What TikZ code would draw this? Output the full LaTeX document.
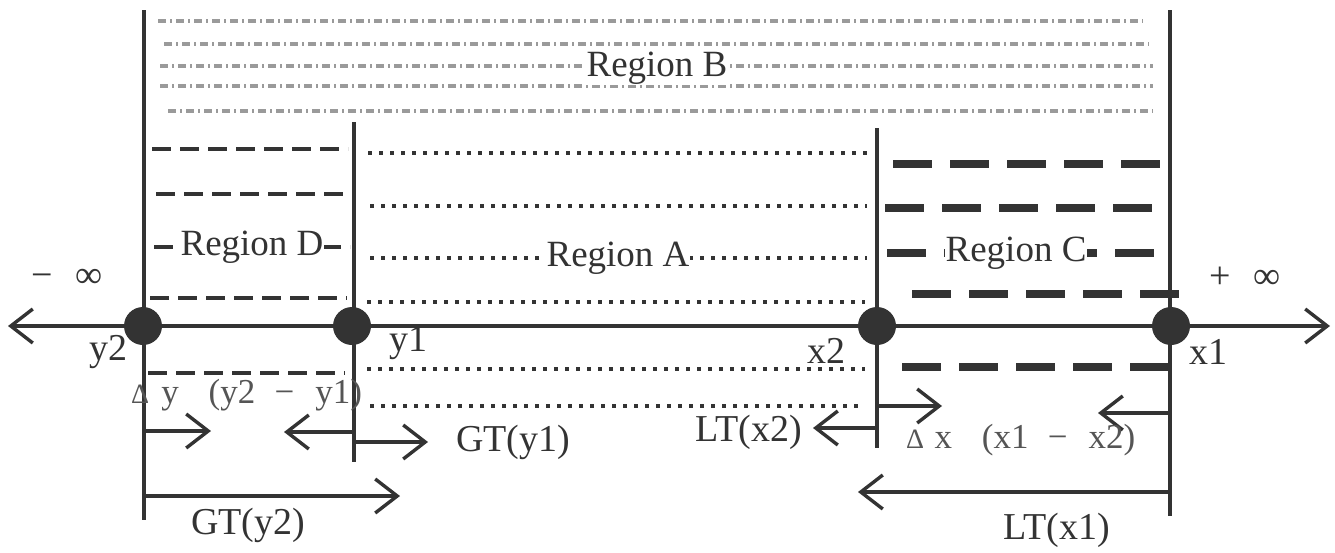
\documentclass[tikz,border=0pt]{standalone}
\usepackage{fontspec}
\setmainfont{Liberation Serif}
\usetikzlibrary{arrows.meta}
\definecolor{ink}{HTML}{333333}
\definecolor{softgray}{HTML}{9A9A9A}
\definecolor{labelgray}{HTML}{555555}
\begin{document}
\begin{tikzpicture}[x=1pt,y=-1pt,
  line/.style={draw=ink,line width=3.6pt},
  barb/.style={line,-{Straight Barb[length=22pt,width=34pt,line width=3.4pt]}},
  bothbarb/.style={line,{Straight Barb[length=22pt,width=34pt,line width=3.4pt]}-{Straight Barb[length=22pt,width=34pt,line width=3.4pt]}},
  pt/.style={circle,fill=ink,minimum size=38pt,inner sep=0pt},
  bline/.style={draw=softgray,line width=3.4pt,dash pattern=on 8pt off 4pt on 2pt off 4pt},
  dline/.style={draw=ink,line width=3.8pt,dash pattern=on 19pt off 9pt},
  aline/.style={draw=ink,line width=3.6pt,dash pattern=on 4pt off 7pt},
  cline/.style={draw=ink,line width=8pt,dash pattern=on 39pt off 18pt},
  region/.style={text=ink,fill=white,inner sep=1pt,font=\fontsize{37}{40}\selectfont},
  lab/.style={text=ink,inner sep=0pt,font=\fontsize{38}{40}\selectfont},
  small/.style={text=labelgray,inner sep=0pt,anchor=west,font=\fontsize{35}{37}\selectfont}]
\useasboundingbox (0,0) rectangle (1335,552);

% region B: grey dash-dot bands
\draw[bline] (158,21) -- (1143,21);
\draw[bline] (164,44) -- (1149,44);
\draw[bline] (160,66) -- (1153,66);
\draw[bline] (160,86) -- (1153,86);
\draw[bline] (168,111) -- (1153,111);

% region D: medium dashes
\draw[dline] (152,149) -- (348,149);
\draw[dline] (156,194) -- (350,194);
\draw[dline] (154,247) -- (350,247);
\draw[dline] (150,298) -- (347,298);
\draw[dline] (148,373) -- (345,373);

% region A: fine dots
\draw[aline] (368,153) -- (867,153);
\draw[aline] (370,206) -- (867,206);
\draw[aline] (370,258) -- (867,258);
\draw[aline] (367,302) -- (865,302);
\draw[aline] (367,369) -- (865,369);
\draw[aline] (370,406) -- (858,406);

% region C: heavy dashes
\draw[cline] (893,164) -- (1163,164);
\draw[cline] (885,208) -- (1155,208);
\draw[cline] (887,253) -- (1157,253);
\draw[cline] (912,294) -- (1180,294);
\draw[cline] (902,367) -- (1170,367);

% boundaries of the intervals
\coordinate (y2top) at (144,10);   \coordinate (y2bot) at (144,520);
\coordinate (y1top) at (354,122);  \coordinate (y1bot) at (354,462);
\coordinate (x2top) at (877,128);  \coordinate (x2bot) at (877,448);
\coordinate (x1top) at (1170,10);  \coordinate (x1bot) at (1170,516);
\draw[line] (y2top) -- (y2bot);
\draw[line] (y1top) -- (y1bot);
\draw[line] (x2top) -- (x2bot);
\draw[line] (x1top) -- (x1bot);

% number line
\coordinate (minf) at (8,326);
\coordinate (pinf) at (1330,326);
\draw[bothbarb] (minf) -- (pinf);
\node[pt] (py2) at (143,326) {};
\node[pt] (py1) at (352,326) {};
\node[pt] (px2) at (877,326) {};
\node[pt] (px1) at (1171,326) {};

% region names
\node[region] (rb) at (657,68) {Region B};
\node[region] (rd) at (252,247) {Region D};
\node[region] (ra) at (618,258) {Region A};
\node[region] (rc) at (1016,253) {Region C};

% end and point labels
\node[lab] (tminf) at (67,278) {−\hspace{0.6em}∞};
\node[lab] (tpinf) at (1245,278) {+\hspace{0.6em}∞};
\node[lab] (ty2) at (108,352) {y2};
\node[lab] (ty1) at (408,343) {y1};
\node[lab] (tx2) at (826,351) {x2};
\node[lab] (tx1) at (1208,352) {x1};

% threshold arrows
\coordinate (a1s) at (144,431); \coordinate (a1e) at (211,431);
\coordinate (a2s) at (354,432); \coordinate (a2e) at (284,432);
\coordinate (a3s) at (354,442); \coordinate (a3e) at (428,442);
\coordinate (a4s) at (144,496); \coordinate (a4e) at (400,496);
\coordinate (a5s) at (877,428); \coordinate (a5e) at (813,428);
\coordinate (a6s) at (877,406); \coordinate (a6e) at (942,406);
\coordinate (a7s) at (1170,413); \coordinate (a7e) at (1098,413);
\coordinate (a8s) at (1170,492); \coordinate (a8e) at (858,492);
\draw[barb] (a1s) -- (a1e);
\draw[barb] (a2s) -- (a2e);
\draw[barb] (a3s) -- (a3e);
\draw[barb] (a4s) -- (a4e);
\draw[barb] (a5s) -- (a5e);
\draw[barb] (a6s) -- (a6e);
\draw[barb] (a7s) -- (a7e);
\draw[barb] (a8s) -- (a8e);

\node[lab] (gty1) at (513,442) {GT(y1)};
\node[lab] (ltx2) at (749,432) {LT(x2)};
\node[lab] (gty2) at (248,525) {GT(y2)};
\node[lab] (ltx1) at (1057,530) {LT(x1)};

\node[small] (dy) at (131,395) {{\fontsize{28}{30}\selectfont Δ}\hspace{0.35em}y\hspace{0.85em}(y2\hspace{0.55em}−\hspace{0.6em}y1)};
\node[small] (dx) at (906,440) {{\fontsize{28}{30}\selectfont Δ}\hspace{0.3em}x\hspace{0.85em}(x1\hspace{0.55em}−\hspace{0.6em}x2)};
\end{tikzpicture}
\end{document}
